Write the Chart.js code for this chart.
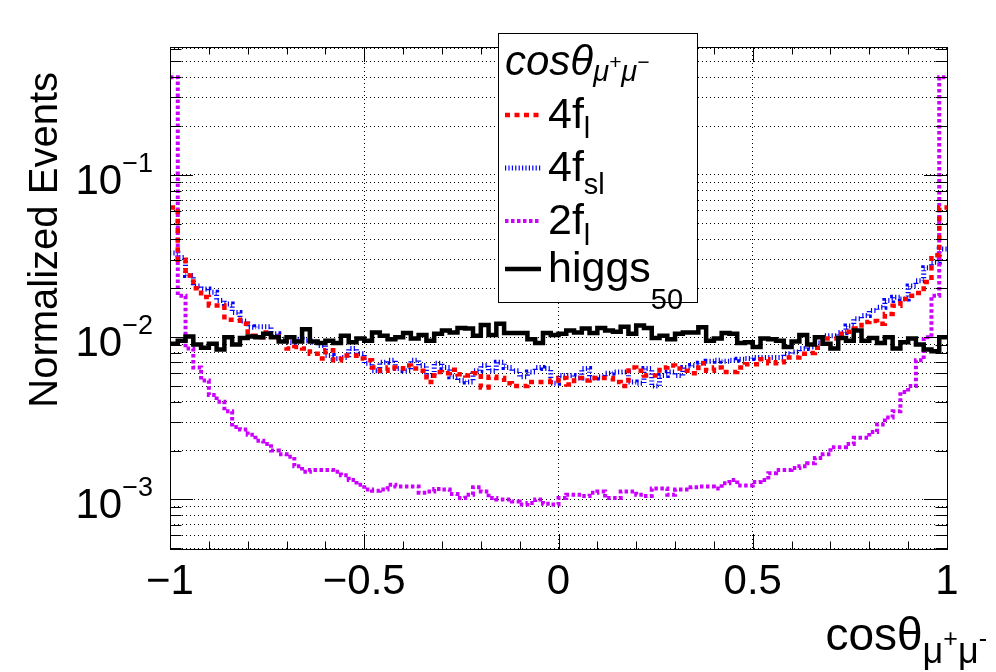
<!DOCTYPE html>
<html>
<head>
<meta charset="utf-8">
<title>cos theta mu+ mu-</title>
<script src="https://cdn.jsdelivr.net/npm/chart.js@4.4.1/dist/chart.umd.min.js"></script>
<style>
  html, body { margin: 0; padding: 0; background: #fff; }
  canvas { display: block; }
</style>
</head>
<body>
<canvas id="plot" width="996" height="672"></canvas>
<script>
// binning of the histograms: 100 bins of cos(theta) between -1 and 1
const xMin = -1, xMax = 1, nBins = 100;
const yMin = 4.95e-4, yMax = 0.614;

// axis labels
const xLabelValues = [-1, -0.5, 0, 0.5, 1];
const xLabelTexts = ['\u22121', '\u22120.5', '0', '0.5', '1'];
const yLabelExps = [-1, -2, -3];

// 4f_l
const fourFL = [
  0.063, 0.030, 0.024, 0.020, 0.0177, 0.0157, 0.0157, 0.0128, 0.0128, 0.0121,
  0.0102, 0.0100, 0.0107, 0.0101, 0.0097, 0.0085, 0.0087, 0.0085, 0.0079, 0.0074,
  0.0083, 0.0072, 0.0077, 0.0077, 0.0074, 0.0072, 0.0065, 0.0062, 0.0065, 0.0064,
  0.0067, 0.0064, 0.0062, 0.0053, 0.0061, 0.0060, 0.0063, 0.0059, 0.0058, 0.0060,
  0.0049, 0.0057, 0.0056, 0.0052, 0.0050, 0.0050, 0.0053, 0.0053, 0.0053, 0.0054,
  0.0056, 0.0051, 0.0056, 0.0054, 0.0056, 0.0056, 0.0056, 0.0053, 0.0050, 0.0065,
  0.0062, 0.0058, 0.0058, 0.0065, 0.0067, 0.0064, 0.0062, 0.0060, 0.0069, 0.0062,
  0.0065, 0.0061, 0.0061, 0.0065, 0.0068, 0.0068, 0.0073, 0.0069, 0.0070, 0.0075,
  0.0075, 0.0079, 0.0080, 0.0086, 0.0098, 0.0098, 0.0105, 0.0108, 0.0113, 0.0124,
  0.0126, 0.0121, 0.0139, 0.0156, 0.0172, 0.0180, 0.0187, 0.0219, 0.032, 0.063
];

// 4f_sl
const fourFSL = [
  0.033, 0.031, 0.024, 0.0207, 0.0198, 0.0189, 0.0168, 0.0160, 0.0142, 0.0126,
  0.0115, 0.0116, 0.0116, 0.0105, 0.0097, 0.0093, 0.0097, 0.0095, 0.0093, 0.0089,
  0.0077, 0.0074, 0.0075, 0.0085, 0.0079, 0.0069, 0.0062, 0.0070, 0.0072, 0.0064,
  0.0062, 0.0072, 0.0067, 0.0058, 0.0069, 0.0065, 0.0057, 0.0054, 0.0053, 0.0062,
  0.0067, 0.0062, 0.0070, 0.0065, 0.0062, 0.0057, 0.0061, 0.0065, 0.0064, 0.0052,
  0.0058, 0.0058, 0.0056, 0.0064, 0.0056, 0.0057, 0.0060, 0.0061, 0.0061, 0.0053,
  0.0052, 0.0064, 0.0050, 0.0058, 0.0061, 0.0058, 0.0065, 0.0067, 0.0069, 0.0071,
  0.0072, 0.0071, 0.0072, 0.0073, 0.0074, 0.0075, 0.0075, 0.0075, 0.0075, 0.0079,
  0.0081, 0.0085, 0.0087, 0.0092, 0.0102, 0.0102, 0.0107, 0.0117, 0.0130, 0.0136,
  0.0146, 0.0153, 0.0168, 0.0176, 0.0172, 0.0207, 0.0223, 0.0268, 0.029, 0.035
];

// 2f_l
const twoFL = [
  0.40, 0.018, 0.0085, 0.0065, 0.0054, 0.0044, 0.0040, 0.0035, 0.0028, 0.0027,
  0.0025, 0.0023, 0.0022, 0.0020, 0.0019, 0.00183, 0.0016, 0.00148, 0.00152, 0.00152,
  0.00152, 0.00148, 0.00141, 0.00132, 0.00123, 0.00115, 0.00113, 0.00115, 0.00123, 0.0012,
  0.0012, 0.0012, 0.0011, 0.00112, 0.00116, 0.00115, 0.00108, 0.00102, 0.00107, 0.00119,
  0.00112, 0.00102, 0.0010, 0.0010, 0.00097, 0.00093, 0.00095, 0.0010, 0.00094, 0.00093,
  0.00102, 0.00107, 0.00107, 0.00105, 0.0011, 0.00112, 0.00102, 0.00102, 0.00112, 0.00112,
  0.00107, 0.00105, 0.00117, 0.00117, 0.00107, 0.00115, 0.00115, 0.00119, 0.0012, 0.0012,
  0.00117, 0.00126, 0.00132, 0.00122, 0.00122, 0.00128, 0.00132, 0.00145, 0.00152, 0.00152,
  0.00156, 0.0016, 0.00167, 0.0018, 0.0019, 0.0021, 0.0021, 0.0022, 0.0024, 0.0024,
  0.0026, 0.0029, 0.0032, 0.0035, 0.0046, 0.0050, 0.0072, 0.0100, 0.018, 0.40
];

// higgs_50
const higgs = [
  0.0091, 0.0095, 0.0101, 0.0090, 0.0086, 0.0091, 0.0084, 0.0100, 0.0090, 0.0099,
  0.0101, 0.0100, 0.0105, 0.0100, 0.0094, 0.0100, 0.0094, 0.0112, 0.0094, 0.0092,
  0.0095, 0.0092, 0.0102, 0.0093, 0.0098, 0.0095, 0.0107, 0.0102, 0.0097, 0.0100,
  0.0106, 0.0098, 0.0103, 0.0095, 0.0105, 0.0110, 0.0107, 0.0114, 0.0113, 0.0102,
  0.0119, 0.0103, 0.0121, 0.0106, 0.0106, 0.0106, 0.0097, 0.0092, 0.0106, 0.0103,
  0.0105, 0.0110, 0.0107, 0.0113, 0.0106, 0.0114, 0.0110, 0.0108, 0.0116, 0.0105,
  0.0118, 0.0114, 0.0099, 0.0102, 0.0097, 0.0105, 0.0107, 0.0107, 0.0115, 0.0095,
  0.0098, 0.0106, 0.0105, 0.0092, 0.0093, 0.0087, 0.0098, 0.0097, 0.0095, 0.0087,
  0.0094, 0.0103, 0.0090, 0.0100, 0.0091, 0.0085, 0.0099, 0.0095, 0.0110, 0.0095,
  0.0099, 0.0092, 0.0100, 0.0085, 0.0093, 0.0098, 0.0090, 0.0084, 0.0082, 0.0100
];

// legend text: [main, subscript]
const legendNames = [['4f', 'l'], ['4f', 'sl'], ['2f', 'l'], ['higgs', '50']];

const FONT = '"Liberation Sans", Arial, Helvetica, sans-serif';

// step points at the low edge of every bin, plus the upper edge of the last one
function histPoints(vals) {
  const w = (xMax - xMin) / vals.length;
  const pts = vals.map((v, i) => ({x: xMin + i * w, y: v}));
  pts.push({x: xMax, y: vals[vals.length - 1]});
  return pts;
}

function fontOf(size, italic) {
  return (italic ? 'italic ' : '') + size + 'px ' + FONT;
}

// runs: [text, size, dy, italic]
function drawRuns(ctx, runs, x, y, align) {
  let w = 0;
  runs.forEach(r => { ctx.font = fontOf(r[1], r[3]); w += ctx.measureText(r[0]).width; });
  let cx = x;
  if (align === 'right') cx = x - w;
  if (align === 'center') cx = x - w / 2;
  ctx.textAlign = 'left';
  ctx.textBaseline = 'alphabetic';
  runs.forEach(r => {
    ctx.font = fontOf(r[1], r[3]);
    ctx.fillText(r[0], cx, y + (r[2] || 0));
    cx += ctx.measureText(r[0]).width;
  });
  return w;
}

const rootStyle = {
  id: 'rootStyle',
  afterDatasetsDraw(chart) {
    const {ctx, chartArea: a, scales: {x, y}} = chart;
    ctx.save();
    ctx.strokeStyle = '#000';
    ctx.lineWidth = 1;
    ctx.setLineDash([]);
    ctx.beginPath();
    // x ticks every 0.1, long ones every 0.5 (top and bottom)
    for (let k = -10; k <= 10; k++) {
      const px = Math.round(x.getPixelForValue(k / 10)) + 0.5;
      const len = k % 5 === 0 ? 15 : 7.5;
      ctx.moveTo(px, a.bottom); ctx.lineTo(px, a.bottom - len);
      ctx.moveTo(px, a.top); ctx.lineTo(px, a.top + len);
    }
    // y ticks on both sides
    y.ticks.forEach(t => {
      const py = Math.round(y.getPixelForValue(t.value)) + 0.5;
      const lg = Math.log10(t.value);
      const len = Math.abs(lg - Math.round(lg)) < 1e-6 ? 23 : 11.5;
      ctx.moveTo(a.left, py); ctx.lineTo(a.left + len, py);
      ctx.moveTo(a.right, py); ctx.lineTo(a.right - len, py);
    });
    ctx.stroke();
    ctx.strokeRect(Math.round(a.left) + 0.5, Math.round(a.top) + 0.5,
      Math.round(a.right - a.left), Math.round(a.bottom - a.top));
    ctx.restore();
  },
  afterDraw(chart) {
    const {ctx, scales: {x, y}} = chart;
    ctx.save();
    ctx.fillStyle = '#000';

    // x labels
    xLabelValues.forEach((v, i) => {
      drawRuns(ctx, [[xLabelTexts[i], 42, 0]], x.getPixelForValue(v), 594, 'center');
    });
    // y labels 10^n
    yLabelExps.forEach(e => {
      const py = y.getPixelForValue(Math.pow(10, e));
      drawRuns(ctx, [['10', 42, 0], ['\u2212' + Math.abs(e), 27, -22]], 153, py + 19, 'right');
    });

    // axis titles
    drawRuns(ctx, [['cos\u03b8', 46, 0], ['\u03bc', 36, 13], ['+', 25, -3], ['\u03bc', 36, 13], ['-', 25, -3]],
      987, 650, 'right');
    ctx.save();
    ctx.translate(57, 72);
    ctx.rotate(-Math.PI / 2);
    ctx.font = fontOf(40);
    ctx.textAlign = 'right';
    ctx.textBaseline = 'alphabetic';
    ctx.fillText('Normalized Events', 0, 0);
    ctx.restore();

    // legend box
    const L = {x: 498.5, y: 33.5, w: 199, h: 269};
    ctx.fillStyle = '#fff';
    ctx.fillRect(L.x, L.y, L.w, L.h);
    ctx.strokeStyle = '#000';
    ctx.lineWidth = 1;
    ctx.strokeRect(L.x, L.y, L.w, L.h);
    ctx.fillStyle = '#000';
    drawRuns(ctx, [['cos\u03b8', 42, 0, true], ['\u03bc', 29, 6, true], ['+', 21, -6, true],
      ['\u03bc', 29, 6, true], ['\u2212', 21, -6, true]], 505, 75, 'left');

    const sampleY = [115, 168, 221, 269];
    const subDy = [10, 13, 11, 27];
    legendNames.forEach((nm, i) => {
      const ds = chart.data.datasets[i];
      ctx.save();
      ctx.strokeStyle = ds.borderColor;
      ctx.lineWidth = ds.borderWidth;
      ctx.setLineDash(ds.borderDash || []);
      ctx.beginPath();
      ctx.moveTo(505, sampleY[i]);
      ctx.lineTo(541, sampleY[i]);
      ctx.stroke();
      ctx.restore();
      ctx.fillStyle = '#000';
      drawRuns(ctx, [[nm[0], 43, 0], [nm[1], 29, subDy[i]]], 548, sampleY[i] + 13, 'left');
    });
    ctx.restore();
  }
};

const yTicks = [];
for (let e = -4; e <= 0; e++) {
  for (let m = 1; m <= 9; m++) {
    const v = m * Math.pow(10, e);
    if (v >= yMin && v <= yMax) yTicks.push({value: v});
  }
}

new Chart(document.getElementById('plot'), {
  type: 'line',
  data: {
    datasets: [
      {label: '4f_l', data: histPoints(fourFL), borderColor: '#ff0000', borderWidth: 4.5,
        borderDash: [5, 4.5], order: 1},
      {label: '4f_sl', data: histPoints(fourFSL), borderColor: '#0000ff', borderWidth: 5,
        borderDash: [1.2, 2.2], order: 3},
      {label: '2f_l', data: histPoints(twoFL), borderColor: '#cc00ff', borderWidth: 4,
        borderDash: [3.5, 2.5], order: 2},
      {label: 'higgs_50', data: histPoints(higgs), borderColor: '#000000', borderWidth: 4.5,
        order: 0}
    ]
  },
  options: {
    responsive: false,
    animation: false,
    devicePixelRatio: 1,
    layout: {padding: {left: 170, right: 49, top: 47, bottom: 123}},
    elements: {
      point: {radius: 0, hoverRadius: 0},
      line: {stepped: 'before', fill: false, tension: 0, borderCapStyle: 'butt'}
    },
    plugins: {legend: {display: false}, tooltip: {enabled: false}},
    events: [],
    scales: {
      x: {
        type: 'linear', min: xMin, max: xMax,
        ticks: {display: false},
        grid: {color: '#000', lineWidth: 1, drawTicks: false},
        border: {display: false, dash: [1, 3]},
        afterBuildTicks: s => { s.ticks = xLabelValues.map(v => ({value: v})); },
        afterFit: s => { s.height = 0; }
      },
      y: {
        type: 'logarithmic', min: yMin, max: yMax,
        ticks: {display: false},
        grid: {color: '#000', lineWidth: 1, drawTicks: false},
        border: {display: false, dash: [1, 3]},
        afterBuildTicks: s => { s.ticks = yTicks.map(t => ({value: t.value})); },
        afterFit: s => { s.width = 0; }
      }
    }
  },
  plugins: [rootStyle]
});
</script>
</body>
</html>
